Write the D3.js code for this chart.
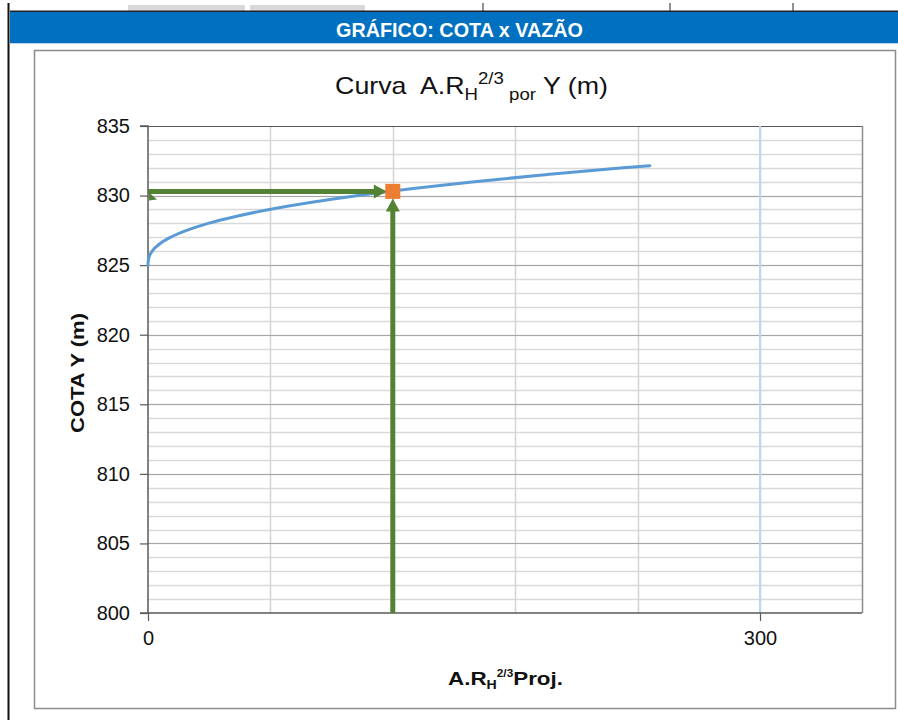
<!DOCTYPE html>
<html><head><meta charset="utf-8">
<script src="https://cdn.jsdelivr.net/npm/d3@7"></script>
<style>body{margin:0;background:#fff}svg{display:block}text{white-space:pre}</style>
</head><body>
<svg id="c" width="898" height="720"></svg>
<script>
// ---- data ----
const areaValues = [0, 0.07, 0.37, 2.0, 5.5, 11, 19, 29.5, 43, 59.5, 79.5, 103, 130, 160, 195, 233, 246];
const cotaValues = [825, 825.25, 825.5, 826, 826.5, 827, 827.5, 828, 828.5, 829, 829.5, 830, 830.5, 831, 831.5, 832, 832.15];
const projArea = 120;
const projCota = 830.3;
const refLineX = 300;
const yTicks = [800, 805, 810, 815, 820, 825, 830, 835];
const xTicks = [0, 300];
const xMinorTicks = [60, 120, 180, 240, 300];

const svg = d3.select("#c");
const F = "'Liberation Sans', Arial, sans-serif";

function fit(sel, targetW, cx, cy, rot) {
  const w = sel.node().getBBox().width;
  const s = targetW / w;
  sel.attr("x", 0).attr("y", 0).attr("text-anchor", "middle")
     .attr("transform", `translate(${cx},${cy})${rot ? " rotate(" + rot + ")" : ""} scale(${s},1)`);
}

// page decoration
svg.append("rect").attr("x",128).attr("y",5).attr("width",117).attr("height",7).attr("fill","#d9d9d9");
svg.append("rect").attr("x",250).attr("y",5).attr("width",115).attr("height",7).attr("fill","#d9d9d9");
[483,670,793].forEach(x=>svg.append("line").attr("x1",x).attr("x2",x).attr("y1",3).attr("y2",12).attr("stroke","#222").attr("stroke-width",1));
svg.append("line").attr("x1",10).attr("x2",898).attr("y1",11.5).attr("y2",11.5).attr("stroke","#222").attr("stroke-width",2);
svg.append("rect").attr("x",10).attr("y",12).attr("width",888).attr("height",31).attr("fill","#0070C0");
svg.append("line").attr("x1",10).attr("x2",898).attr("y1",43.5).attr("y2",43.5).attr("stroke","#bcd3ea").attr("stroke-width",1);
const hdr = svg.append("text").attr("font-family",F).attr("font-weight","bold")
  .attr("font-size",21).attr("fill","#fff").text("GRÁFICO: COTA x VAZÃO");
fit(hdr, 247, 459.5, 37);
svg.append("line").attr("x1",8.5).attr("x2",8.5).attr("y1",3).attr("y2",720).attr("stroke","#111").attr("stroke-width",2);
svg.append("rect").attr("x",34.5).attr("y",50.5).attr("width",861).attr("height",658).attr("fill","#fff").attr("stroke","#8c8c8c").attr("stroke-width",1.5);

// scales
const L=148, R=862, T=126, B=613;
const x = d3.scaleLinear().domain([0,350]).range([L,R]);
const y = d3.scaleLinear().domain([800,835]).range([B,T]);

// grid
const g = svg.append("g");
g.selectAll(".hm").data(d3.range(801,835)).join("line")
  .attr("x1",L).attr("x2",R).attr("y1",d=>Math.round(y(d))+0.5).attr("y2",d=>Math.round(y(d))+0.5)
  .attr("stroke","#d9d9d9").attr("stroke-width",1.5);
g.selectAll(".vm").data(xMinorTicks).join("line")
  .attr("x1",d=>Math.round(x(d))+0.5).attr("x2",d=>Math.round(x(d))+0.5).attr("y1",T).attr("y2",B)
  .attr("stroke","#d4d4d4").attr("stroke-width",1.5);
g.selectAll(".hM").data(yTicks.filter(v=>v>800&&v<835)).join("line")
  .attr("x1",L).attr("x2",R).attr("y1",d=>Math.round(y(d))+0.5).attr("y2",d=>Math.round(y(d))+0.5)
  .attr("stroke","#a6a6a6").attr("stroke-width",1.2);
svg.append("line").attr("x1",L).attr("x2",R).attr("y1",T+0.5).attr("y2",T+0.5).attr("stroke","#595959").attr("stroke-width",1.2);
svg.append("line").attr("x1",R+0.5).attr("x2",R+0.5).attr("y1",T).attr("y2",B).attr("stroke","#8c8c8c").attr("stroke-width",1.5);

// reference line at 300
svg.append("line").attr("x1",x(refLineX)).attr("x2",x(refLineX)).attr("y1",T).attr("y2",B)
  .attr("stroke","#bdd7ee").attr("stroke-width",2);

// axes
const yAxis = d3.axisLeft(y).tickValues(yTicks).tickSize(8).tickPadding(10).tickFormat(d3.format("d"));
const ya = svg.append("g").attr("transform",`translate(${L},0)`).call(yAxis);
const xAxis = d3.axisBottom(x).tickValues(xTicks).tickSize(8).tickPadding(10).tickFormat(d3.format("d"));
const xa = svg.append("g").attr("transform",`translate(0,${B})`).call(xAxis);
[ya,xa].forEach(a=>{
  a.select(".domain").attr("stroke","#595959").attr("stroke-width",1.5);
  a.selectAll(".tick line").attr("stroke","#595959").attr("stroke-width",1.2);
  a.selectAll("text").attr("font-family",F).attr("font-size",20).attr("fill","#111");
});
ya.select(".domain").attr("d",`M-8,${B}H0V${T}H-8`);
xa.select(".domain").attr("d",`M${L},0H${R}`);

// curve
const pts = areaValues.map((a,i)=>[a,cotaValues[i]]);
svg.append("path").datum(pts)
  .attr("d", d3.line().x(d=>x(d[0])).y(d=>y(d[1])).curve(d3.curveMonotoneX))
  .attr("fill","none").attr("stroke","#5b9bd5").attr("stroke-width",3).attr("stroke-linecap","round");

// projection arrows
const green = "#548235";
const px = x(projArea), py = y(projCota);
svg.append("line").attr("x1",L).attr("x2",px-16).attr("y1",py).attr("y2",py).attr("stroke",green).attr("stroke-width",5);
svg.append("path").attr("d",`M${px-6},${py} L${px-19},${py-7} L${px-19},${py+7} Z`).attr("fill",green);
svg.append("path").attr("d",`M${L+1},${py+1} L${L+9},${py+8} L${L+1},${py+9} Z`).attr("fill",green);
svg.append("line").attr("x1",px).attr("x2",px).attr("y1",B).attr("y2",py+18).attr("stroke",green).attr("stroke-width",5);
svg.append("path").attr("d",`M${px},${py+7} L${px-7},${py+20} L${px+7},${py+20} Z`).attr("fill",green);
svg.append("rect").attr("x",px-7.5).attr("y",py-7.5).attr("width",15).attr("height",15).attr("fill","#ed7d31");

// title
const t = svg.append("text").attr("font-family",F).attr("font-size",23).attr("fill","#111");
t.append("tspan").text("Curva  A.R");
t.append("tspan").attr("font-size",16).attr("dy",6).text("H");
t.append("tspan").attr("font-size",16).attr("dy",-16).text("2/3");
t.append("tspan").attr("font-size",16).attr("dy",16).text(" por");
t.append("tspan").attr("dy",-6).text(" Y (m)");
fit(t, 273, 471.5, 94);

// axis titles
const xt = svg.append("text").attr("font-family",F).attr("font-weight","bold").attr("font-size",19).attr("fill","#111");
xt.append("tspan").text("A.R");
xt.append("tspan").attr("font-size",12).attr("dy",4).text("H");
xt.append("tspan").attr("font-size",10).attr("dy",-12).text("2/3");
xt.append("tspan").attr("dy",8).text("Proj.");
fit(xt, 115, 505.5, 685);

const yt = svg.append("text").attr("font-family",F).attr("font-weight","bold").attr("font-size",19).attr("fill","#111").text("COTA Y (m)");
fit(yt, 120, 84, 373, -90);
</script>
</body></html>
